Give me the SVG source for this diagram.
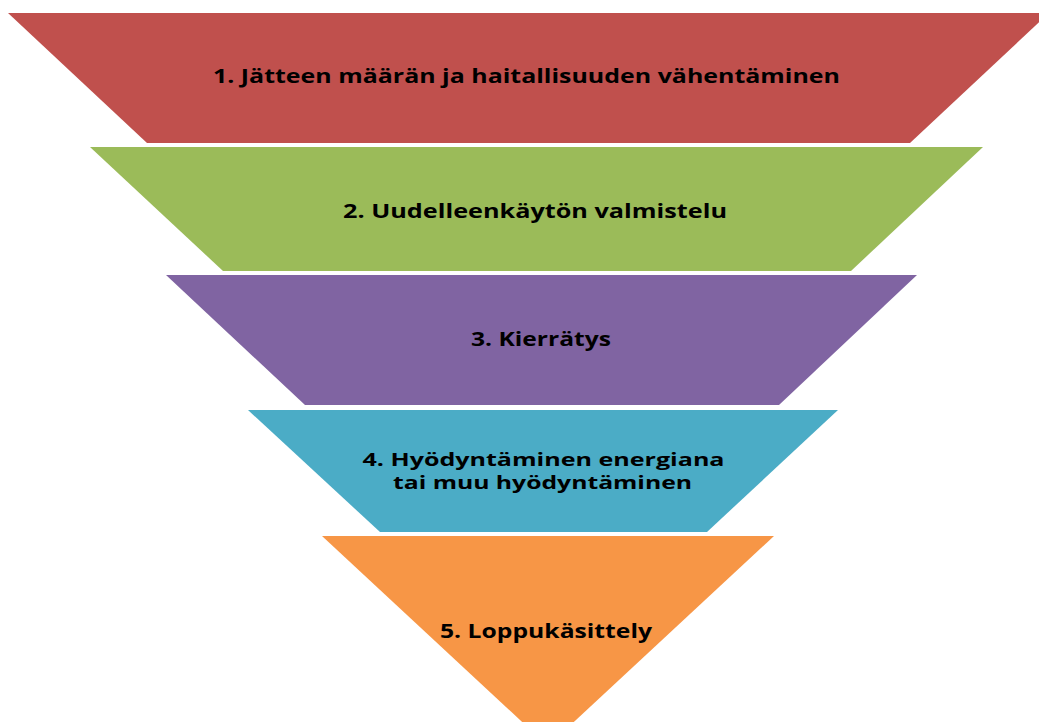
<svg xmlns="http://www.w3.org/2000/svg" width="1039" height="722" viewBox="0 0 1039 722">
  <style>
    .lbl { font-family: "Open Sans", "Noto Sans", "DejaVu Sans", sans-serif; font-weight: bold; font-size: 19px; fill: #000; text-anchor: middle; }
    .lbl.two { font-size: 17.5px; }
  </style>
  <rect width="1039" height="722" fill="#ffffff"/>
  <!-- waste hierarchy funnel, top tier to bottom tier -->
  <g id="tier1">
    <polygon points="8,13 1049,13 910,143 147,143" fill="#C0504D"/>
    <text class="lbl" x="526.5" y="83" textLength="627" lengthAdjust="spacingAndGlyphs">1. Jätteen määrän ja haitallisuuden vähentäminen</text>
  </g>
  <g id="tier2">
    <polygon points="90,147 983,147 851,271 223,271" fill="#9BBB59"/>
    <text class="lbl" x="535" y="218" textLength="384" lengthAdjust="spacingAndGlyphs">2. Uudelleenkäytön valmistelu</text>
  </g>
  <g id="tier3">
    <polygon points="166,275 917,275 779,405 305,405" fill="#8064A2"/>
    <text class="lbl" x="541" y="346" textLength="140" lengthAdjust="spacingAndGlyphs">3. Kierrätys</text>
  </g>
  <g id="tier4">
    <polygon points="248,410 838,410 707,532 380,532" fill="#4BACC6"/>
    <text class="lbl two" x="543.5" y="466" textLength="362" lengthAdjust="spacingAndGlyphs">4. Hyödyntäminen energiana</text>
    <text class="lbl two" x="542.5" y="489" textLength="299" lengthAdjust="spacingAndGlyphs">tai muu hyödyntäminen</text>
  </g>
  <g id="tier5">
    <polygon points="322,536 774,536 548,746" fill="#F79646"/>
    <text class="lbl" x="546" y="638" textLength="212" lengthAdjust="spacingAndGlyphs">5. Loppukäsittely</text>
  </g>
  <g id="connectors"/>
</svg>
